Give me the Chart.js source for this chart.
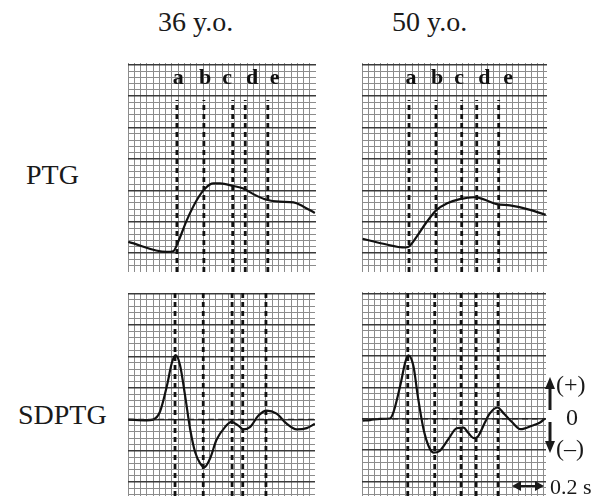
<!DOCTYPE html>
<html>
<head>
<meta charset="utf-8">
<script src="https://cdn.jsdelivr.net/npm/chart.js@4.4.1/dist/chart.umd.min.js"></script>
<style>
  body { margin: 0; background: #fff; font-family: "Liberation Serif", "DejaVu Serif", serif; }
  #fig { position: relative; width: 594px; height: 496px; overflow: hidden; }
  .t { position: absolute; white-space: nowrap; color: #1a1a1a; line-height: 28px; font-size: 28px; }
  .s { position: absolute; white-space: nowrap; color: #1a1a1a; line-height: 24px; font-size: 24px; }
  .p { position: absolute; }
  svg { position: absolute; left: 0; top: 0; }
</style>
</head>
<body>
<div id="fig">
  <div class="t" style="left:158px;top:8px">36 y.o.</div>
  <div class="t" style="left:392px;top:8px">50 y.o.</div>
  <div class="t" style="left:26px;top:161px">PTG</div>
  <div class="t" style="left:18px;top:401px">SDPTG</div>

  <div class="p" style="left:128px;top:63px"><canvas id="ptg36" width="188" height="209"></canvas></div>
  <div class="p" style="left:362px;top:63px"><canvas id="ptg50" width="185" height="209"></canvas></div>
  <div class="p" style="left:128px;top:293px"><canvas id="sd36" width="187" height="203"></canvas></div>
  <div class="p" style="left:362px;top:292px"><canvas id="sd50" width="184" height="204"></canvas></div>

  <svg width="594" height="496">
    <line x1="550" y1="410" x2="550" y2="386" stroke="#1a1a1a" stroke-width="3"/>
    <polygon points="550,377 545,389 555,389" fill="#1a1a1a"/>
    <line x1="550" y1="422" x2="550" y2="444" stroke="#1a1a1a" stroke-width="3"/>
    <polygon points="550,453 545,441 555,441" fill="#1a1a1a"/>
    <line x1="518" y1="486" x2="538" y2="486" stroke="#1a1a1a" stroke-width="2"/>
    <polygon points="512,486 521,481 521,491" fill="#1a1a1a"/>
    <polygon points="544,486 535,481 535,491" fill="#1a1a1a"/>
  </svg>
  <div class="s" style="left:556px;top:372px">(+)</div>
  <div class="s" style="left:566px;top:405px">0</div>
  <div class="s" style="left:556px;top:436px">(–)</div>
  <div class="s" style="left:550px;top:475px;font-size:22px">0.2 s</div>
</div>

<script>
// all values in grid units (one small square of the recording paper)
const waveLabels = ['a', 'b', 'c', 'd', 'e'];

// PTG, 36 y.o.
const ptg36X = [0.05, 6.2, 7.2, 8.0, 9.4, 11.0, 12.3, 13.6, 14.7, 16.8, 18.4, 20.0, 22.1, 24.2, 26.4, 28.0, 29.8];
const ptg36Y = [4.8, 3.2, 3.3, 4.8, 8.3, 11.5, 13.3, 14.1, 14.1, 13.7, 13.3, 12.4, 11.5, 11.2, 11.1, 10.4, 9.4];
// PTG, 50 y.o.
const ptg50X = [0.1, 3.4, 6.9, 7.4, 8.7, 10.2, 11.9, 13.5, 15.6, 18.0, 19.3, 21.5, 23.6, 26.8, 29.3];
const ptg50Y = [5.3, 4.5, 3.9, 4.0, 5.6, 7.8, 9.9, 10.9, 11.6, 11.9, 11.6, 10.8, 10.6, 9.9, 9.1];
// SDPTG, 36 y.o.
const sd36X = [0.05, 3.0, 4.0, 5.1, 6.2, 7.0, 7.6, 8.3, 9.1, 9.9, 10.7, 11.5, 12.2, 13.1, 14.1, 15.5, 16.5, 17.6, 18.4, 19.5, 20.8, 22.1, 23.7, 25.3, 26.9, 28.5, 29.8];
const sd36Y = [-0.05, -0.16, -0.05, 1.2, 5.3, 9.0, 10.2, 8.6, 3.8, -1.5, -5.2, -7.0, -7.6, -6.2, -3.3, -1.2, -0.4, -1.0, -1.6, -1.2, 0.6, 1.4, 0.9, -0.7, -1.6, -1.4, -0.7];
// SDPTG, 50 y.o.
const sd50X = [0.1, 1.3, 2.9, 4.4, 5.0, 6.1, 6.9, 7.4, 8.2, 8.9, 9.8, 10.6, 11.4, 12.4, 13.8, 15.1, 16.2, 16.9, 17.9, 18.5, 19.6, 20.3, 21.6, 22.7, 24.0, 25.3, 27.1, 28.4, 29.2];
const sd50Y = [-0.3, -0.2, 0, 0.05, 1.0, 5.3, 9.0, 10.1, 8.4, 3.6, -1.6, -4.3, -5.4, -5.1, -3.2, -1.5, -1.4, -2.2, -3.1, -2.8, -0.6, 0.75, 1.8, 0.75, -0.6, -1.65, -1.1, -0.6, 0.05];

// a-e wave positions
const marks36Top = [7.8, 12.1, 16.7, 18.7, 22.3];
const marks50Top = [7.5, 11.8, 15.9, 18.3, 21.8];
const marks36Bot = [7.5, 12.0, 16.6, 18.3, 22.0];
const marks50Bot = [7.3, 11.6, 15.8, 18.2, 21.7];
const labelX36 = [8.0, 12.3, 15.8, 19.8, 23.4];
const labelX50 = [7.8, 12.0, 15.5, 19.5, 23.3];

const cell = 6.27;

function intTicks(axis) {
    const t = [];
    for (let v = Math.ceil(axis.min); v <= axis.max; v++) t.push({ value: v });
    axis.ticks = t;
}

function makePanel(id, xs, ys, marks, markTop, yMin, yMax, majorOff, labelXs, zeroLine) {
    const canvas = document.getElementById(id);
    const datasets = [];
    marks.forEach((m) => {
        datasets.push({
            data: [{ x: m, y: yMin }, { x: m, y: markTop }],
            borderColor: '#111', borderWidth: 2.8, borderDash: [5, 4],
            pointRadius: 0, tension: 0
        });
    });
    if (zeroLine) {
        datasets.push({
            data: [{ x: 0, y: 0 }, { x: canvas.width / cell, y: 0 }],
            borderColor: '#222', borderWidth: 1.2, borderDash: [6, 4],
            pointRadius: 0, tension: 0
        });
    }
    datasets.push({
        data: xs.map((x, i) => ({ x: x, y: ys[i] })),
        borderColor: '#111', borderWidth: 2.2, pointRadius: 0,
        cubicInterpolationMode: 'monotone'
    });

    const letters = {
        id: 'letters',
        afterDatasetsDraw(chart) {
            if (!labelXs) return;
            const c = chart.ctx;
            c.save();
            c.font = 'bold 22px "Liberation Serif", serif';
            c.fillStyle = '#111';
            c.textAlign = 'center';
            c.textBaseline = 'alphabetic';
            labelXs.forEach((lx, i) => {
                c.fillText(waveLabels[i], chart.scales.x.getPixelForValue(lx), chart.scales.y.getPixelForValue(30.0));
            });
            c.restore();
        }
    };

    new Chart(canvas, {
        type: 'line',
        data: { datasets: datasets },
        options: {
            responsive: false,
            animation: false,
            layout: { padding: 0 },
            plugins: { legend: { display: false }, tooltip: { enabled: false } },
            scales: {
                x: {
                    type: 'linear', min: 0, max: canvas.width / cell,
                    afterBuildTicks: intTicks,
                    ticks: { display: false },
                    border: { display: false },
                    grid: { color: '#8c8c8c', lineWidth: 1, drawTicks: false }
                },
                y: {
                    type: 'linear', min: yMin, max: yMax,
                    afterBuildTicks: intTicks,
                    ticks: { display: false },
                    border: { display: false },
                    grid: {
                        drawTicks: false,
                        color: (ctx) => (((ctx.tick.value - majorOff) % 5 + 5) % 5 === 0 ? '#3a3a3a' : '#8c8c8c'),
                        lineWidth: (ctx) => (((ctx.tick.value - majorOff) % 5 + 5) % 5 === 0 ? 1.4 : 1)
                    }
                }
            }
        },
        plugins: [letters]
    });
}

makePanel('ptg36', ptg36X, ptg36Y, marks36Top, 27.4, 0, 209 / 6.28, 3, labelX36, false);
makePanel('ptg50', ptg50X, ptg50Y, marks50Top, 27.4, 0, 209 / 6.28, 3, labelX50, false);
makePanel('sd36', sd36X, sd36Y, marks36Bot, 20.2, -12.2, 20.1, 0, null, true);
makePanel('sd50', sd50X, sd50Y, marks50Bot, 20.2, -12.3, 20.2, 0, null, true);
</script>
</body>
</html>
